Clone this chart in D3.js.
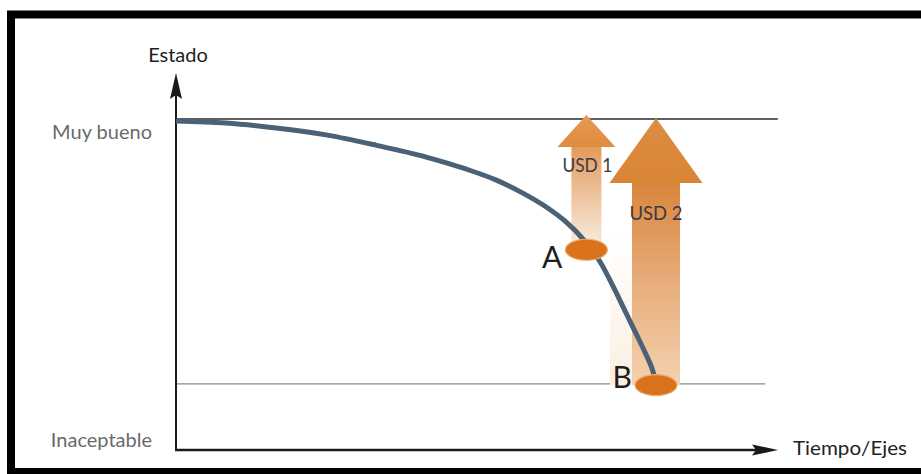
<!DOCTYPE html>
<html>
<head>
<meta charset="utf-8">
<script src="https://cdn.jsdelivr.net/npm/d3@7"></script>
<style>
  html, body { margin: 0; padding: 0; background: #fff; }
  svg { display: block; font-family: Lato, "Open Sans", sans-serif; }
</style>
</head>
<body>
<svg id="chart"></svg>
<script>
// curve: time vs state (0 = inaceptable, 100 = muy bueno)
const timeVals  = [0, 8.3, 16.7, 25, 33.3, 41.7, 48.3, 53.3, 57.5, 61.7, 65, 68, 70.7, 73, 75, 76.8, 78.3, 79.3, 80];
const stateVals = [99.4, 98.8, 97.3, 95.2, 92.1, 88.5, 84.9, 81.6, 77.9, 73.4, 68.9, 63.4, 56.8, 48.9, 41.4, 34.7, 29.0, 24.8, 20.5];

const levelVals = [100, 20];
const yTickVals = [100, 0];
const yTickLabels = ['Muy bueno', 'Inaceptable'];

const pointNames = ['A', 'B'];
const pointTime  = [68.4, 80];
const pointState = [60.5, 19.6];
const costLabels = ['USD 1', 'USD 2'];

var config = {
  width: 921,
  height: 474,
  x0: 176, x1: 776,
  y0: 450, y1: 119
};

var svg = d3.select('#chart')
  .attr('width', config.width)
  .attr('height', config.height);

var x = d3.scaleLinear().domain([0, 100]).range([config.x0, config.x1]);
var y = d3.scaleLinear().domain([0, 100]).range([config.y0, config.y1]);

var defs = svg.append('defs');

function grad(id, stops) {
  var g = defs.append('linearGradient').attr('id', id)
    .attr('x1', 0).attr('y1', 0).attr('x2', 0).attr('y2', 1);
  stops.forEach(s => g.append('stop').attr('offset', s[0]).attr('stop-color', s[1])
    .attr('stop-opacity', s.length > 2 ? s[2] : 1));
}
grad('shaft0', [[0, '#e29a58'], [0.35, '#ebb88c'], [1, '#faf0e6']]);
grad('shaft1', [[0, '#d9853a'], [0.5, '#e8ad7c'], [1, '#f3d2b1']]);
grad('head0', [[0, '#e59a52'], [1, '#e08c40']]);
grad('head1', [[0, '#dc8c42'], [1, '#d98536']]);
grad('glow', [[0, '#fcefe2', 0], [1, '#fcefe2', 1]]);

// frame
svg.append('rect')
  .attr('x', 11).attr('y', 14.5)
  .attr('width', 930).attr('height', 457.5)
  .attr('fill', 'none').attr('stroke', '#000').attr('stroke-width', 8);

// level lines
var levelStyle = [
  { end: 100.3, color: '#2a2a2a', w: 1.4 },
  { end: 98.2, color: '#8a8a8a', w: 1.2 }
];
levelVals.forEach(function (v, i) {
  svg.append('line')
    .attr('x1', x(0)).attr('x2', x(levelStyle[i].end))
    .attr('y1', y(v)).attr('y2', y(v))
    .attr('stroke', levelStyle[i].color)
    .attr('stroke-width', levelStyle[i].w);
});

// investment arrows (from each point up to "muy bueno")
var arrowDims = [
  { shaft: 15, head: 29, headH: 32 },
  { shaft: 24, head: 46.5, headH: 65 }
];
pointNames.forEach(function (n, i) {
  var cx = x(pointTime[i]);
  var top = y(100) - (i == 0 ? 4 : 1);
  var bottom = y(pointState[i]);
  var d = arrowDims[i];
  var base = top + d.headH;
  if (i == 1) {
    svg.append('rect')
      .attr('x', cx - d.shaft - 22).attr('y', base + 50)
      .attr('width', 22).attr('height', bottom - base - 50)
      .attr('fill', 'url(#glow)');
  }
  svg.append('rect')
    .attr('x', cx - d.shaft).attr('y', base - 1)
    .attr('width', 2 * d.shaft).attr('height', bottom - base + 1)
    .attr('fill', 'url(#shaft' + i + ')');
  svg.append('path')
    .attr('d', d3.line()([[cx, top], [cx + d.head, base], [cx - d.head, base]]) + 'Z')
    .attr('fill', 'url(#head' + i + ')');
});

// y axis
svg.append('line')
  .attr('x1', x(0)).attr('x2', x(0))
  .attr('y1', y(0)).attr('y2', 90)
  .attr('stroke', '#1a1a1a').attr('stroke-width', 2);
svg.append('path')
  .attr('d', d3.line()([[x(0), 73], [x(0) + 6, 99], [x(0), 95], [x(0) - 6, 99]]) + 'Z')
  .attr('fill', '#1a1a1a');

// x axis
svg.append('line')
  .attr('x1', x(0) - 1).attr('x2', 760)
  .attr('y1', y(0)).attr('y2', y(0))
  .attr('stroke', '#1a1a1a').attr('stroke-width', 2.5);
svg.append('path')
  .attr('d', d3.line()([[778, y(0)], [752, y(0) - 5.5], [756, y(0)], [752, y(0) + 5.5]]) + 'Z')
  .attr('fill', '#1a1a1a');

// deterioration curve
var curve = d3.line()
  .x((d, i) => x(timeVals[i]))
  .y(d => y(d))
  .curve(d3.curveMonotoneX);
svg.append('path')
  .datum(stateVals)
  .attr('d', curve)
  .attr('fill', 'none')
  .attr('stroke', '#4b6176')
  .attr('stroke-width', 5);

// points
pointNames.forEach(function (n, i) {
  svg.append('ellipse')
    .attr('cx', x(pointTime[i])).attr('cy', y(pointState[i]))
    .attr('rx', 21).attr('ry', 10.5)
    .attr('fill', '#d9721a')
    .attr('stroke', '#efac6e').attr('stroke-width', 1.2);
  svg.append('text')
    .attr('x', x(pointTime[i]) - 24).attr('y', y(pointState[i]) + (i == 0 ? 18 : 3))
    .attr('text-anchor', 'end')
    .attr('font-size', 30)
    .attr('fill', '#1e1e1e')
    .text(n);
});

// cost labels
var costX = [x(pointTime[0]) + 1, x(pointTime[1])];
var costY = [172, 220];
var costW = [50, 53];
costLabels.forEach(function (t, i) {
  svg.append('text')
    .attr('x', costX[i] - costW[i] / 2).attr('y', costY[i])
    .attr('textLength', costW[i]).attr('lengthAdjust', 'spacingAndGlyphs')
    .attr('font-size', 19)
    .attr('fill', '#3a3a48')
    .text(t);
});

// y labels
yTickVals.forEach(function (v, i) {
  svg.append('text')
    .attr('x', 152).attr('y', v == 100 ? y(v) + 20 : y(v) - 3)
    .attr('text-anchor', 'end')
    .attr('font-size', 20)
    .attr('fill', '#6a6a6a')
    .text(yTickLabels[i]);
});

// axis titles
svg.append('text')
  .attr('x', 178).attr('y', 62)
  .attr('text-anchor', 'middle')
  .attr('font-size', 20)
  .attr('fill', '#1e1e1e')
  .text('Estado');
svg.append('text')
  .attr('x', 793).attr('y', 455)
  .attr('textLength', 114).attr('lengthAdjust', 'spacingAndGlyphs')
  .attr('font-size', 20)
  .attr('fill', '#222')
  .text('Tiempo/Ejes');
</script>
</body>
</html>
